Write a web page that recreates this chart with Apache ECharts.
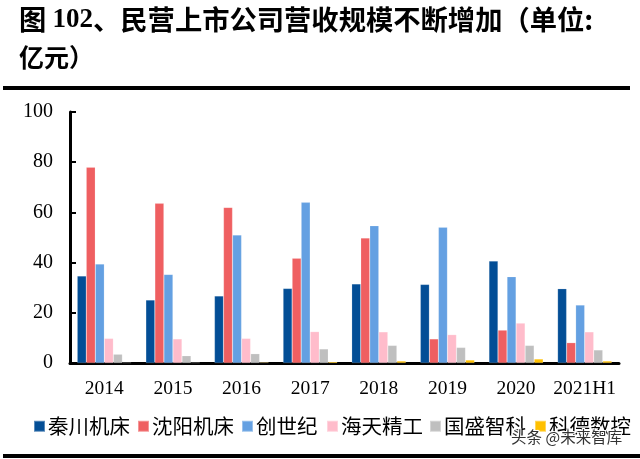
<!DOCTYPE html>
<html><head><meta charset="utf-8">
<script src="https://cdn.jsdelivr.net/npm/echarts@6/dist/echarts.min.js"></script>
<style>html,body{margin:0;padding:0;background:#fff}#c{width:640px;height:459px}</style>
</head><body><div id="c"></div>
<script>
const categories = ['2014','2015','2016','2017','2018','2019','2020','2021H1'];
const seriesNames = ['秦川机床','沈阳机床','创世纪','海天精工','国盛智科','科德数控'];
const qinchuan = [34.7, 25.1, 26.7, 29.7, 31.5, 31.3, 40.6, 29.6];
const shenyang = [78.0, 63.6, 62.0, 41.7, 49.8, 9.6, 13.1, 8.1];
const chuangshiji = [39.4, 35.3, 51.0, 64.0, 54.7, 54.1, 34.4, 23.1];
const haitian = [9.8, 9.6, 9.8, 12.5, 12.4, 11.3, 15.9, 12.4];
const guosheng = [3.5, 2.9, 3.7, 5.6, 7.0, 6.2, 7.0, 5.2];
const kede = [0.2, 0.2, 0.3, 0.5, 0.8, 1.2, 1.6, 0.8];
const yTicks = [0, 20, 40, 60, 80, 100];
const colors = ['#034e96','#ef5f61','#64a0e2','#ffbccb','#bfbfbf','#ffc000'];
const values = [qinchuan, shenyang, chuangshiji, haitian, guosheng, kede];
const legendLeft = [28, 132, 236, 321, 424, 529];

const chart = echarts.init(document.getElementById('c'), null, {renderer:'canvas'});
const serif = '"Liberation Serif", "Times New Roman", serif';
const cjk = '"Noto Sans CJK SC", sans-serif';
chart.setOption({
  animation: false,
  backgroundColor: '#fff',
  color: colors,
  graphic: [
    {type:'text', left: 19, top: 6, style:{
      text:'{a|图 }{b|102}{a|、民营上市公司营收规模不断增加（单位:}',
      rich:{
        a:{fontFamily: cjk, fontWeight:'bold', fontSize: 27.3, fill:'#000'},
        b:{fontFamily: serif, fontWeight:'bold', fontSize: 27, fill:'#000'}
      }}},
    {type:'text', left: 19, top: 45, style:{text:'亿元）', font:'bold 25px ' + cjk, fill:'#000'}},
    {type:'rect', shape:{x:3, y:86, width:627, height:4}, style:{fill:'#000'}},
    {type:'rect', shape:{x:3, y:454, width:637, height:4}, style:{fill:'#000'}},
    {type:'text', left: 510, top: 428, z: 100, style:{text:'头条 @未来智库', font:'15.5px ' + cjk, fill:'#333', stroke:'#fff', lineWidth:2}}
  ],
  legend: seriesNames.map((n, i) => ({
    data: [n],
    left: legendLeft[i], top: 411,
    itemWidth: 11, itemHeight: 11, itemGap: 0,
    icon: 'rect',
    textStyle: {fontFamily: cjk, fontSize: 20.5, color:'#000', padding:[0,0,0,-2]}
  })),
  grid: {left: 70, right: 21, top: 112, bottom: 96},
  xAxis: {
    type: 'category', data: categories,
    axisLine: {lineStyle:{color:'#000', width:3}},
    axisTick: {show:false},
    axisLabel: {fontFamily: serif, fontSize: 19.5, color:'#000', margin: 16, interval: 0}
  },
  yAxis: {
    type: 'value', min: 0, max: 100, interval: 20,
    axisLine: {show:true, lineStyle:{color:'#000', width:3}},
    axisTick: {show:true, inside:true, length:6, lineStyle:{color:'#000', width:2}},
    splitLine: {show:false},
    axisLabel: {fontFamily: serif, fontSize: 20, color:'#000', margin: 17,
      formatter: v => yTicks.includes(v) ? String(v) : ''}
  },
  series: seriesNames.map((n,i) => ({
    name: n, type: 'bar', data: values[i],
    barGap: '0%', barCategoryGap: '21%',
    itemStyle: {color: colors[i], borderColor: 'rgba(255,255,255,0.35)', borderWidth: 0.5}
  }))
});
</script></body></html>
